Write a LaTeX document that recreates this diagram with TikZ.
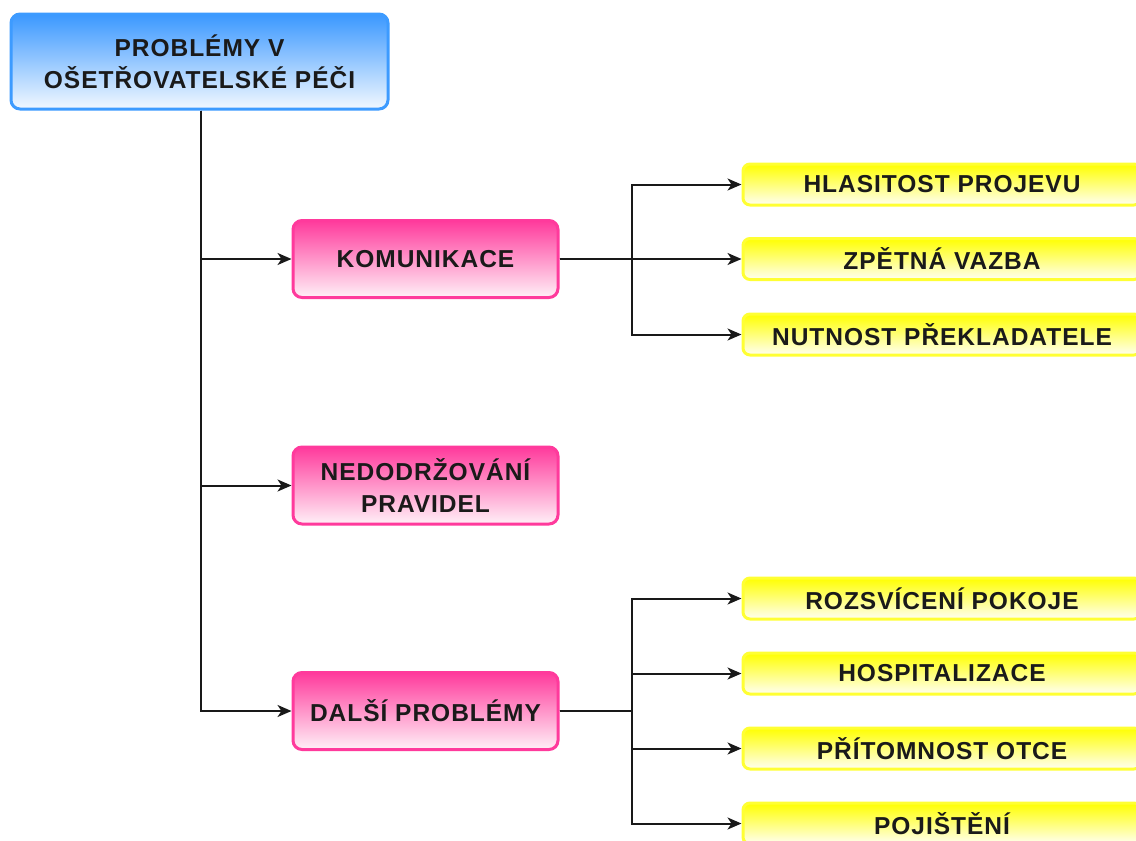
\documentclass[tikz,border=0pt]{standalone}
\usepackage{fontspec}
\setmainfont{Liberation Sans}[LetterSpace=4]
\usetikzlibrary{arrows.meta}
\definecolor{blueedge}{HTML}{3D9BFF}
\definecolor{bluetop}{HTML}{3A98FF}
\definecolor{bluebot}{HTML}{F2F8FF}
\definecolor{pinkedge}{HTML}{FF3A9C}
\definecolor{pinktop}{HTML}{FF3A9C}
\definecolor{pinkbot}{HTML}{FFF0F7}
\definecolor{yellowedge}{HTML}{FFFF33}
\definecolor{yellowtop}{HTML}{FFFF00}
\definecolor{yellowbot}{HTML}{FFFFF2}
\definecolor{ink}{HTML}{1A1A1A}
\tikzset{
  box/.style={rectangle, rounded corners=9pt, line width=3pt, align=center,
    text=ink, font=\fontsize{24.5}{32}\selectfont\bfseries, inner sep=0pt},
  rootbox/.style={box, draw=blueedge, top color=bluetop, bottom color=bluebot,
    minimum width=377pt, minimum height=95pt},
  topicbox/.style={box, draw=pinkedge, top color=pinktop, bottom color=pinkbot,
    minimum width=265pt, minimum height=77pt},
  itembox/.style={box, draw=yellowedge, top color=yellowtop, bottom color=yellowbot,
    minimum width=398pt, minimum height=41pt, rounded corners=7pt},
  link/.style={draw=black!90, line width=2pt},
  arr/.style={link, -{Stealth[length=14pt,width=12pt,inset=4pt]}}
}
\begin{document}
\begin{tikzpicture}[x=1pt,y=-1pt]
  \useasboundingbox (0,0) rectangle (1136,841);
  \fill[white] (0,0) rectangle (1136,841);

  % root
  \node[rootbox] (root) at (199.5,61.5) {PROBLÉMY V\\OŠETŘOVATELSKÉ PÉČI};

  % topics
  \node[topicbox] (kom) at (425.5,259) {KOMUNIKACE};
  \node[topicbox] (ned) at (425.5,485.5) {NEDODRŽOVÁNÍ\\PRAVIDEL};
  \node[topicbox] (dal) at (425.5,711) {DALŠÍ PROBLÉMY};

  % items
  \node[itembox] (hla) at (942,184.5) {HLASITOST PROJEVU};
  \node[itembox] (zpe) at (942,259) {ZPĚTNÁ VAZBA};
  \node[itembox] (nut) at (942,334.5) {NUTNOST PŘEKLADATELE};
  \node[itembox] (roz) at (942,598.5) {ROZSVÍCENÍ POKOJE};
  \node[itembox] (hos) at (942,673.5) {HOSPITALIZACE};
  \node[itembox] (pri) at (942,748.5) {PŘÍTOMNOST OTCE};
  \node[itembox] (poj) at (942,823.5) {POJIŠTĚNÍ};

  % trunk from root to topics
  \coordinate (trunk) at (201,110);
  \draw[arr] (root.south -| trunk) |- (kom.west);
  \draw[arr] (root.south -| trunk) |- (ned.west);
  \draw[arr] (root.south -| trunk) |- (dal.west);

  % communication branch
  \coordinate (kj) at (632,259);
  \draw[arr] (kom.east) -- (kj) |- (hla.west);
  \draw[arr] (kom.east) -- (zpe.west);
  \draw[arr] (kom.east) -- (kj) |- (nut.west);

  % other problems branch
  \coordinate (dj) at (632,711);
  \draw[arr] (dal.east) -- (dj) |- (roz.west);
  \draw[arr] (dal.east) -- (dj) |- (hos.west);
  \draw[arr] (dal.east) -- (dj) |- (pri.west);
  \draw[arr] (dal.east) -- (dj) |- (poj.west);
\end{tikzpicture}
\end{document}
